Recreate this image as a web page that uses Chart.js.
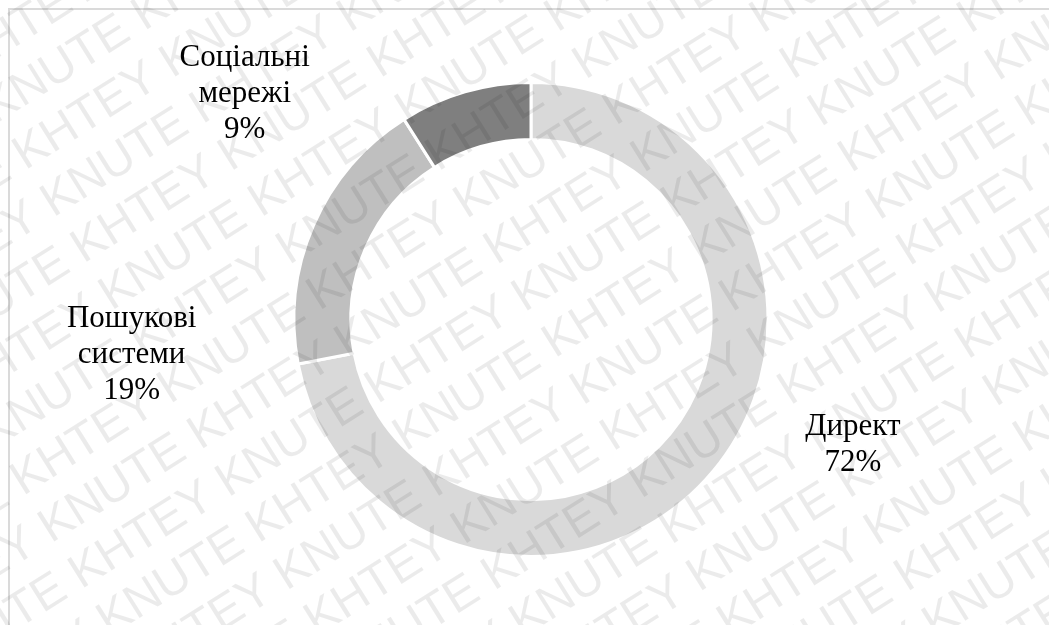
<!DOCTYPE html>
<html>
<head>
<meta charset="utf-8">
<title>Джерела трафіку</title>
<script src="https://cdn.jsdelivr.net/npm/chart.js"></script>
<style>
  html, body { margin: 0; padding: 0; background: #fff; overflow: hidden; }
  .frame { position: absolute; left: 8px; top: 8px; width: 1100px; height: 700px; border: 2px solid #dadada; }
  .wrap { position: absolute; left: 0; top: 0; width: 1049px; height: 625px; }
</style>
</head>
<body>
<div class="frame"></div>
<div class="wrap"><canvas id="trafficChart"></canvas></div>
<script>
// traffic sources, share in percent
var categories = ['Директ', 'Пошукові системи', 'Соціальні мережі'];
var shares = [72, 19, 9];
var sliceColors = ['#d9d9d9', '#bfbfbf', '#7f7f7f'];

// labels sit outside the ring: angle clockwise from top, distance in outer radii
var labelSpots = [
    { angle: 110.5, dist: 1.45 },
    { angle: 265.6, dist: 1.69 },
    { angle: 308.8, dist: 1.55 }
];

var sliceLabels = {
    id: 'sliceLabels',
    afterDatasetsDraw: function(chart) {
        var ctx = chart.ctx;
        var meta = chart.getDatasetMeta(0);
        ctx.save();
        ctx.font = '31px "Liberation Serif"';
        ctx.fillStyle = '#000';
        ctx.textAlign = 'center';
        ctx.textBaseline = 'middle';
        meta.data.forEach(function(arc, i) {
            var spot = labelSpots[i];
            var a = spot.angle * Math.PI / 180;
            var r = arc.outerRadius * spot.dist;
            var cx = arc.x + Math.sin(a) * r;
            // serif glyphs sit high on the middle baseline, nudge them down
            var cy = arc.y - Math.cos(a) * r + 5;
            var lines = categories[i].split(' ').concat([shares[i] + '%']);
            lines.forEach(function(t, k) {
                ctx.fillText(t, cx, cy + (k - (lines.length - 1) / 2) * 36);
            });
        });
        ctx.restore();
    }
};

// diagonal KNUTE / KHTEY stamp over the whole sheet
var watermark = {
    id: 'watermark',
    afterDraw: function(chart) {
        var ctx = chart.ctx;
        ctx.save();
        ctx.font = '48px "Liberation Sans"';
        ctx.fillStyle = 'rgba(0,0,0,0.078)';
        ctx.textBaseline = 'alphabetic';
        ctx.translate(chart.width / 2, chart.height / 2);
        ctx.rotate(-32 * Math.PI / 180);
        var unit = 'KNUTE KHTEY ';
        var period = ctx.measureText(unit).width;
        var line = unit.repeat(10);
        for (var i = -12; i <= 12; i++) {
            var shift = ((i * 0.5) % 1 + 1) % 1 * period;
            ctx.fillText(line, -period * 5 + shift, i * 55);
        }
        ctx.restore();
    }
};

var ctx = document.getElementById('trafficChart').getContext('2d');
var trafficChart = new Chart(ctx, {
    type: 'doughnut',
    data: {
        labels: categories,
        datasets: [{
            data: shares,
            backgroundColor: sliceColors,
            borderColor: '#ffffff',
            borderWidth: 3
        }]
    },
    options: {
        responsive: true,
        maintainAspectRatio: false,
        animation: false,
        cutout: '76%',
        layout: { padding: { top: 81, bottom: 67, left: 13, right: 0 } },
        plugins: {
            legend: { display: false },
            tooltip: { enabled: false }
        }
    },
    plugins: [sliceLabels, watermark]
});
</script>
</body>
</html>
